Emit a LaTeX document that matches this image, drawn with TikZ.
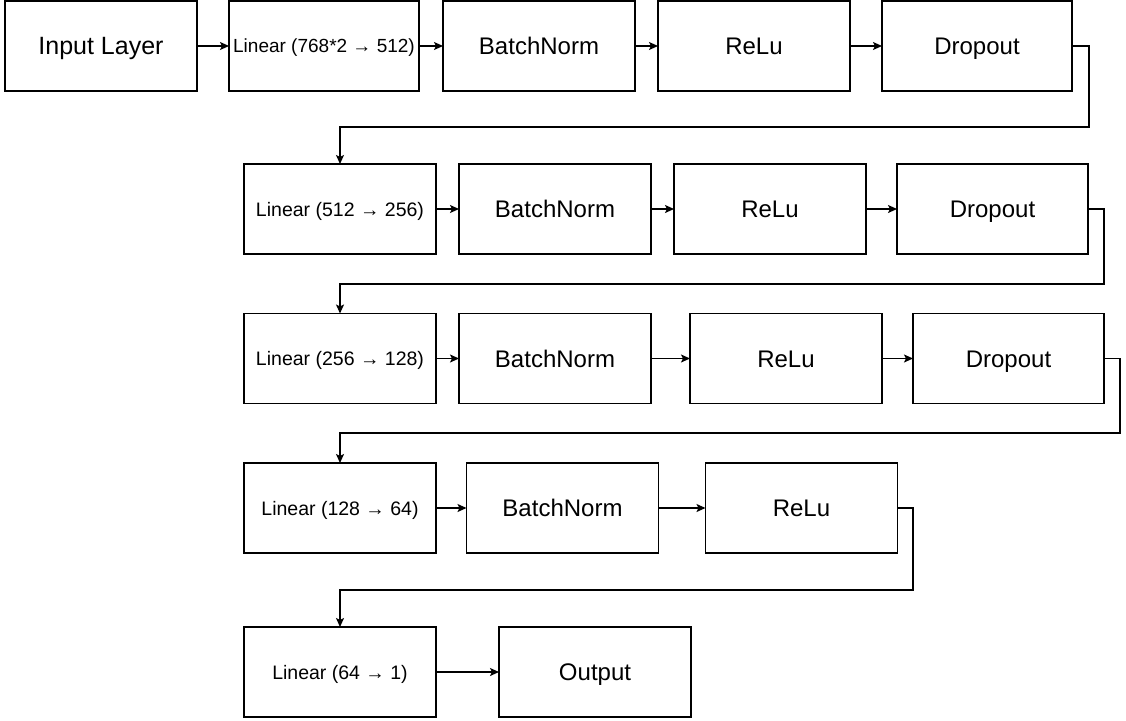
\documentclass[tikz,border=0pt]{standalone}
\usepackage{fontspec}
\setmainfont{Liberation Sans}
\usetikzlibrary{arrows.meta}
\begin{document}
\begin{tikzpicture}[x=1pt,y=-1pt,
  blk/.style={draw, line width=1.4pt, rectangle, inner sep=0pt, outer sep=0pt,
    minimum width=192pt, minimum height=90pt, text height=17.2pt, text depth=0pt,
    font=\fontsize{24}{28}\selectfont},
  lin/.style={blk, text height=14pt, font=\fontsize{19.5}{23}\selectfont},
  conn/.style={line width=1.4pt, -{Stealth[length=9pt,width=8pt,inset=2pt]}}]
\useasboundingbox (0,0) rectangle (1126,720);
% row 1
\node[blk, text height=17.9pt, font=\fontsize{25}{29}\selectfont] (in) at (101,46) {Input Layer};
\node[lin, minimum width=190pt, text height=13.6pt, font=\fontsize{19}{23}\selectfont] (l1) at (324,46) {Linear (768*2 → 512)};
\node[blk] (b1) at (539,46) {BatchNorm};
\node[blk] (r1) at (754,46) {ReLu};
\node[blk, minimum width=190pt] (d1) at (977,46) {Dropout};
% row 2
\node[lin] (l2) at (340,209) {Linear (512 → 256)};
\node[blk] (b2) at (555,209) {BatchNorm};
\node[blk] (r2) at (770,209) {ReLu};
\node[blk, minimum width=191pt] (d2) at (992.5,209) {Dropout};
% row 3
\node[lin] (l3) at (340,358.5) {Linear (256 → 128)};
\node[blk] (b3) at (555,358.5) {BatchNorm};
\node[blk] (r3) at (786,358.5) {ReLu};
\node[blk, minimum width=191pt] (d3) at (1008.5,358.5) {Dropout};
% row 4
\node[lin] (l4) at (340,508) {Linear (128 → 64)};
\node[blk] (b4) at (562.5,508) {BatchNorm};
\node[blk] (r4) at (801.5,508) {ReLu};
% row 5
\node[lin] (l5) at (340,672) {Linear (64 → 1)};
\node[blk] (out) at (595,672) {Output};
% bend points
\coordinate (c1) at (1089,127);
\coordinate (c2) at (1104,284);
\coordinate (c3) at (1120,433);
\coordinate (c4) at (913,590);
% connectors
\draw[conn] (in) -- (l1);
\draw[conn] (l1) -- (b1);
\draw[conn] (b1) -- (r1);
\draw[conn] (r1) -- (d1);
\draw[conn] (d1.east) -| (c1) -| (l2.north);
\draw[conn] (l2) -- (b2);
\draw[conn] (b2) -- (r2);
\draw[conn] (r2) -- (d2);
\draw[conn] (d2.east) -| (c2) -| (l3.north);
\draw[conn] (l3) -- (b3);
\draw[conn] (b3) -- (r3);
\draw[conn] (r3) -- (d3);
\draw[conn] (d3.east) -| (c3) -| (l4.north);
\draw[conn] (l4) -- (b4);
\draw[conn] (b4) -- (r4);
\draw[conn] (r4.east) -| (c4) -| (l5.north);
\draw[conn] (l5) -- (out);
\end{tikzpicture}
\end{document}
